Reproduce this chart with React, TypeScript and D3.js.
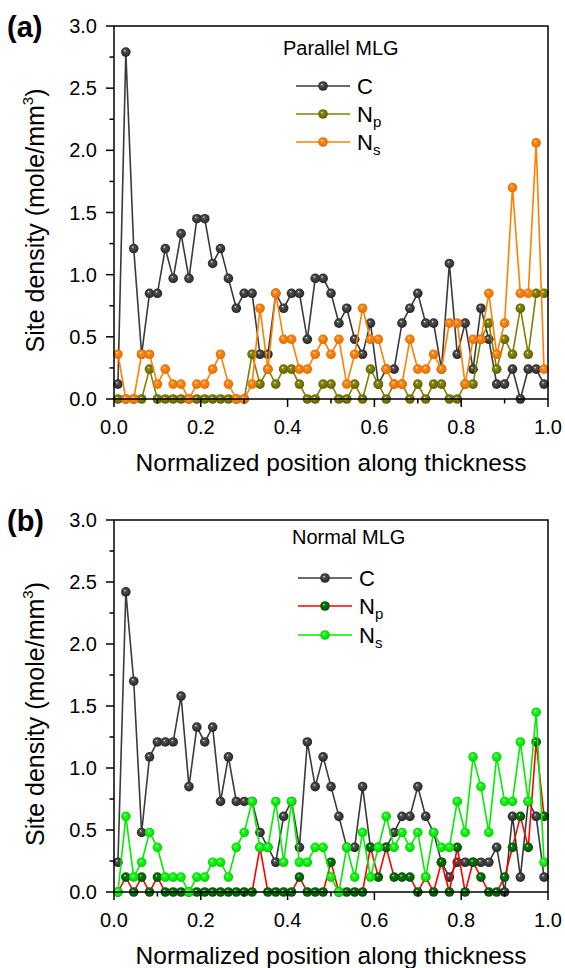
import React from "react";
import * as d3 from "d3";

// ---------- DATA ----------
const positions: number[] = d3.range(55).map((i) => (i + 0.5) / 55);

const xTicks = [0, 0.2, 0.4, 0.6, 0.8, 1.0];
const yTicks = [0, 0.5, 1.0, 1.5, 2.0, 2.5, 3.0];

// Panel (a) Parallel MLG
const aC = [0.12,2.79,1.21,0.36,0.85, 0.85,1.21,0.97,1.33,0.97, 1.45,1.45,1.09,1.21,0.97, 0.73,0.85,0.85,0.36,0.36, 0.85,0.73,0.85,0.85,0.48, 0.97,0.97,0.85,0.61,0.73, 0.48,0.36,0.61,0.12,0.24, 0.24,0.61,0.73,0.85,0.61, 0.61,0.24,1.09,0.36,0.61, 0.24,0.73,0.48,0.12,0.12, 0.24,0,0.24,0.24,0.12];
const aNp = [0,0,0,0,0.24, 0,0,0,0,0, 0,0,0,0,0, 0,0,0.36,0.12,0.24, 0.12,0.24,0.24,0.12,0, 0,0.12,0.12,0,0, 0.12,0,0.24,0.12,0, 0.12,0.12,0,0.12,0, 0.12,0.12,0,0,0.12, 0.12,0.48,0.61,0.24,0.48, 0.36,0.73,0.36,0.85,0.85];
const aNs = [0.36,0,0,0.36,0.36, 0.12,0.24,0.12,0.12,0, 0.12,0.12,0.24,0.36,0.12, 0,0,0.12,0.73,0.24, 0.85,0.48,0.48,0.24,0.24, 0.36,0.48,0.36,0.48,0.12, 0.36,0.73,0.48,0.48,0.24, 0.12,0.12,0.48,0.24,0.24, 0.36,0.24,0.61,0.61,0.12, 0.48,0.48,0.85,0.36,0.61, 1.70,0.85,0.85,2.06,0.24];

// Panel (b) Normal MLG
const bC = [0.24,2.42,1.70,0.48,1.09, 1.21,1.21,1.21,1.58,0.85, 1.33,1.21,1.33,0.73,1.09, 0.73,0.73,0.73,0.48,0.36, 0.24,0.61,0.73,0.36,1.21, 0.85,1.09,0.85,0.61,0.36, 0.36,0.85,0.36,0.36,0.36, 0.48,0.61,0.61,0.85,0.61, 0.48,0.24,0.12,0.24,0.24, 0.24,0.24,0.24,0.36,0, 0.61,0.12,0.73,0.61,0.12];
const bNp = [0,0.12,0,0.12,0, 0.12,0,0,0,0, 0,0,0,0,0, 0,0,0,0.36,0, 0,0,0,0.12,0, 0,0,0.24,0,0, 0,0,0.36,0.12,0.36, 0.12,0.12,0.12,0,0.12, 0,0.24,0,0.36,0, 0.24,0.12,0,0,0.12, 0.36,0.61,0.36,1.21,0.61];
const bNs = [0,0.61,0.12,0.24,0.48, 0.36,0.12,0.12,0.12,0, 0.12,0.12,0.24,0.24,0.12, 0.36,0.48,0.73,0.36,0.36, 0.73,0.24,0.73,0.24,0.24, 0.36,0.36,0.12,0,0.36, 0.12,0.48,0.12,0.36,0.61, 0.36,0.48,0.36,0.48,0.12, 0.48,0.36,0.36,0.73,0.48, 1.09,0.85,0.48,1.09,0.73, 0.73,1.21,0.73,1.45,0.24];

const FONT = "'Liberation Sans', Arial, Helvetica, sans-serif";

type Series = { name: string; sub?: string; values: number[]; line: string };

const W = 565;
const H = 968;
const X0 = 114;
const X1 = 548;

const x = d3.scaleLinear().domain([0, 1]).range([X0, X1]);

function Ball({ cx, cy, grad }: { cx: number; cy: number; grad: string }) {
  return <circle cx={cx} cy={cy} r={4.8} fill={`url(#${grad})`} />;
}

function Panel({
  top,
  bottom,
  label,
  title,
  titleX,
  titleY,
  legX,
  legY,
  series,
  id,
}: {
  top: number;
  bottom: number;
  label: string;
  title: string;
  titleX: number;
  titleY: number;
  legX: number;
  legY: number[];
  series: Series[];
  id: string;
}) {
  const y = d3.scaleLinear().domain([0, 3]).range([bottom, top]);
  const line = d3
    .line<number>()
    .x((_, i) => x(positions[i]))
    .y((d) => y(d));
  const xMinor = d3.range(0.1, 1.0, 0.2);
  const yMinor = d3.range(0.25, 3, 0.5);
  return (
    <g>
      {series.map((s, si) => (
        <g key={si}>
          <path d={line(s.values) || ""} fill="none" stroke={s.line} strokeWidth={1.6} />
          {s.values.map((v, i) => (
            <Ball key={i} cx={x(positions[i])} cy={y(v)} grad={`${id}g${si}`} />
          ))}
        </g>
      ))}
      <rect x={X0} y={top} width={X1 - X0} height={bottom - top} fill="none" stroke="#000" strokeWidth={1.5} />
      {xTicks.map((t) => (
        <g key={"xt" + t}>
          <line x1={x(t)} x2={x(t)} y1={bottom} y2={bottom + 8} stroke="#000" strokeWidth={1.5} />
          <text x={x(t)} y={bottom + 35} textAnchor="middle" fontSize={20} fontFamily={FONT}>
            {t.toFixed(1)}
          </text>
        </g>
      ))}
      {xMinor.map((t) => (
        <line key={"xm" + t} x1={x(t)} x2={x(t)} y1={bottom} y2={bottom + 4.5} stroke="#000" strokeWidth={1.5} />
      ))}
      {yTicks.map((t) => (
        <g key={"yt" + t}>
          <line x1={X0 - 8} x2={X0} y1={y(t)} y2={y(t)} stroke="#000" strokeWidth={1.5} />
          <text x={X0 - 17} y={y(t) + 7} textAnchor="end" fontSize={20} fontFamily={FONT}>
            {t.toFixed(1)}
          </text>
        </g>
      ))}
      {yMinor.map((t) => (
        <line key={"ym" + t} x1={X0 - 4.5} x2={X0} y1={y(t)} y2={y(t)} stroke="#000" strokeWidth={1.5} />
      ))}
      <text x={(X0 + X1) / 2} y={bottom + 72} textAnchor="middle" fontSize={24.5} fontFamily={FONT}>
        Normalized position along thickness
      </text>
      <text
        transform={`translate(44, ${(top + bottom) / 2 + 8}) rotate(-90)`}
        textAnchor="middle"
        fontSize={25}
        fontFamily={FONT}
      >
        Site density (mole/mm<tspan fontSize={15} dy={-11}>3</tspan>
        <tspan dy={11}>)</tspan>
      </text>
      <text x={7} y={top + 11} fontSize={29} fontWeight="bold" fontFamily={FONT}>
        {label}
      </text>
      <text x={titleX} y={titleY + 7} fontSize={20} fontFamily={FONT}>
        {title}
      </text>
      {series.map((s, si) => (
        <g key={"leg" + si}>
          <line x1={legX} x2={legX + 54} y1={legY[si]} y2={legY[si]} stroke={s.line} strokeWidth={1.6} />
          <Ball cx={legX + 27} cy={legY[si]} grad={`${id}g${si}`} />
          <text x={legX + 61} y={legY[si] + 8} fontSize={22} fontFamily={FONT}>
            {s.name}
            {s.sub ? (
              <tspan fontSize={15} dy={5}>
                {s.sub}
              </tspan>
            ) : null}
          </text>
        </g>
      ))}
    </g>
  );
}

function Grad({ id, base, dark }: { id: string; base: string; dark: string }) {
  return (
    <radialGradient id={id} cx="50%" cy="50%" r="55%" fx="38%" fy="32%">
      <stop offset="0%" stopColor="#ffffff" />
      <stop offset="22%" stopColor={base} />
      <stop offset="100%" stopColor={dark} />
    </radialGradient>
  );
}

export default function App() {
  const seriesA: Series[] = [
    { name: "C", values: aC, line: "#3a3a3a" },
    { name: "N", sub: "p", values: aNp, line: "#808000" },
    { name: "N", sub: "s", values: aNs, line: "#ff8000" },
  ];
  const seriesB: Series[] = [
    { name: "C", values: bC, line: "#3a3a3a" },
    { name: "N", sub: "p", values: bNp, line: "#ff0000" },
    { name: "N", sub: "s", values: bNs, line: "#00ee00" },
  ];
  return (
    <svg width={W} height={H} style={{ position: "absolute", left: 0, top: 0 }}>
      <defs>
        <Grad id="ag0" base="#555555" dark="#1e1e1e" />
        <Grad id="ag1" base="#8c8c10" dark="#5a5a00" />
        <Grad id="ag2" base="#ff8c1a" dark="#e06a00" />
        <Grad id="bg0" base="#555555" dark="#1e1e1e" />
        <Grad id="bg1" base="#0a7a0a" dark="#004d00" />
        <Grad id="bg2" base="#22ff22" dark="#00cc00" />
      </defs>
      <rect width={W} height={H} fill="#fff" />
      <Panel
        id="a"
        top={26}
        bottom={399}
        label="(a)"
        title="Parallel MLG"
        titleX={283}
        titleY={48}
        legX={296}
        legY={[86, 114, 142]}
        series={seriesA}
      />
      <Panel
        id="b"
        top={520}
        bottom={892}
        label="(b)"
        title="Normal MLG"
        titleX={292}
        titleY={537}
        legX={298}
        legY={[578, 606, 635]}
        series={seriesB}
      />
    </svg>
  );
}
